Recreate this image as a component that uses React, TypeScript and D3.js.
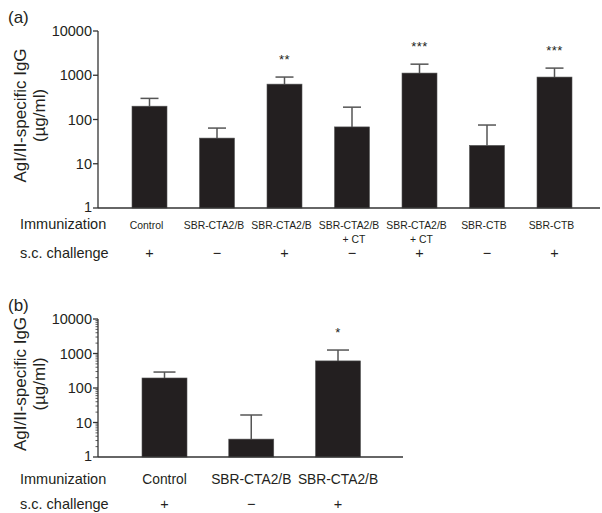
import React from 'react';
import * as d3 from 'd3';

const width = 602;
const height = 513;
const font = "'Liberation Sans', Arial, Helvetica, sans-serif";

// panel (a)
const groupsA = ['Control', 'SBR-CTA2/B', 'SBR-CTA2/B', 'SBR-CTA2/B', 'SBR-CTA2/B', 'SBR-CTB', 'SBR-CTB'];
const subLabelsA = ['', '', '', '+ CT', '+ CT', '', ''];
const challengeA = ['+', '\u2212', '+', '\u2212', '+', '\u2212', '+'];
const meansA = [200, 38, 630, 68, 1120, 26, 910];
const upperA = [300, 64, 910, 190, 1780, 75, 1450];
const starsA = ['', '', '**', '', '***', '', '***'];

// panel (b)
const groupsB = ['Control', 'SBR-CTA2/B', 'SBR-CTA2/B'];
const challengeB = ['+', '\u2212', '+'];
const meansB = [195, 3.3, 610];
const upperB = [290, 16.5, 1260];
const starsB = ['', '', '*'];

const yTicks = [1, 10, 100, 1000, 10000];

function Panel({ tag, top, bottom, axisRight, x0, x1, barW, capW, groups, subs, challenge, means, upper, stars, catSize, catShift, rowY, minor }) {
  const y = d3.scaleLog().domain([1, 10000]).range([bottom, top]);
  const x = d3.scalePoint().domain(d3.range(groups.length)).range([x0, x1]);
  const axisX = 98;
  const minorTicks = [];
  if (minor) {
    for (let e = 0; e < 4; e++) {
      for (let k = 2; k <= 9; k++) minorTicks.push(k * Math.pow(10, e));
    }
  }
  const midY = (top + bottom) / 2 - 4;

  return (
    <g fontFamily={font} fill="#231f20">
      <text x={8} y={top - 8} fontSize={17}>{tag}</text>
      <g fontSize={17} textAnchor="middle">
        <text transform={`translate(26, ${midY}) rotate(-90)`}>AgI/II-specific IgG</text>
        <text transform={`translate(45, ${midY}) rotate(-90)`}>(µg/ml)</text>
      </g>

      {means.map((d, i) => (
        <g key={i}>
          <line x1={x(i)} x2={x(i)} y1={y(d)} y2={y(upper[i])} stroke="#555" strokeWidth={1.5} />
          <line x1={x(i) - capW} x2={x(i) + capW} y1={y(upper[i])} y2={y(upper[i])} stroke="#555" strokeWidth={1.5} />
          <rect x={x(i) - barW / 2} y={y(d)} width={barW} height={bottom - y(d)} fill="#231f20" stroke="#555" strokeWidth={0.6} />
          {stars[i] && (
            <text x={x(i)} y={y(upper[i]) - 13} textAnchor="middle" fontSize={13} letterSpacing={0.5}>{stars[i]}</text>
          )}
        </g>
      ))}

      <line x1={axisX} x2={axisX} y1={top} y2={bottom} stroke="#333" strokeWidth={1.3} />
      <line x1={axisX} x2={axisRight} y1={bottom} y2={bottom} stroke="#333" strokeWidth={1.3} />
      {minorTicks.map((t, i) => (
        <line key={i} x1={axisX - 2.5} x2={axisX} y1={y(t)} y2={y(t)} stroke="#333" strokeWidth={0.8} />
      ))}
      {yTicks.map(t => (
        <g key={t}>
          <line x1={axisX - 5} x2={axisX} y1={y(t)} y2={y(t)} stroke="#333" strokeWidth={1.3} />
          <text x={axisX - 6} y={y(t) + (t === 1 ? 4 : 5)} textAnchor="end" fontSize={14.5}>{t}</text>
        </g>
      ))}

      <text x={20} y={rowY[0]} fontSize={14.5}>Immunization</text>
      <text x={20} y={rowY[2]} fontSize={14.5}>s.c. challenge</text>
      {groups.map((g, i) => (
        <g key={i} textAnchor="middle">
          <text x={x(i) + catShift} y={rowY[0]} fontSize={catSize}>{g}</text>
          {subs[i] && <text x={x(i) + 2} y={rowY[1]} fontSize={catSize}>{subs[i]}</text>}
          <text x={x(i)} y={rowY[2]} fontSize={14.5}>{challenge[i]}</text>
        </g>
      ))}
    </g>
  );
}

export default function App() {
  return (
    <svg width={width} height={height} style={{ position: 'absolute', left: 0, top: 0, background: '#fff' }}>
      <Panel tag="(a)" top={31} bottom={208} axisRight={600} x0={149.5} x1={554.5} barW={35} capW={9}
        groups={groupsA} subs={subLabelsA} challenge={challengeA} means={meansA} upper={upperA} stars={starsA}
        catSize={10.4} catShift={-3} rowY={[229, 243, 258]} minor={false} />
      <Panel tag="(b)" top={319} bottom={457} axisRight={403} x0={164.5} x1={338} barW={45} capW={11}
        groups={groupsB} subs={['', '', '']} challenge={challengeB} means={meansB} upper={upperB} stars={starsB}
        catSize={13.8} catShift={0} rowY={[484, 496, 509]} minor={true} />
    </svg>
  );
}
